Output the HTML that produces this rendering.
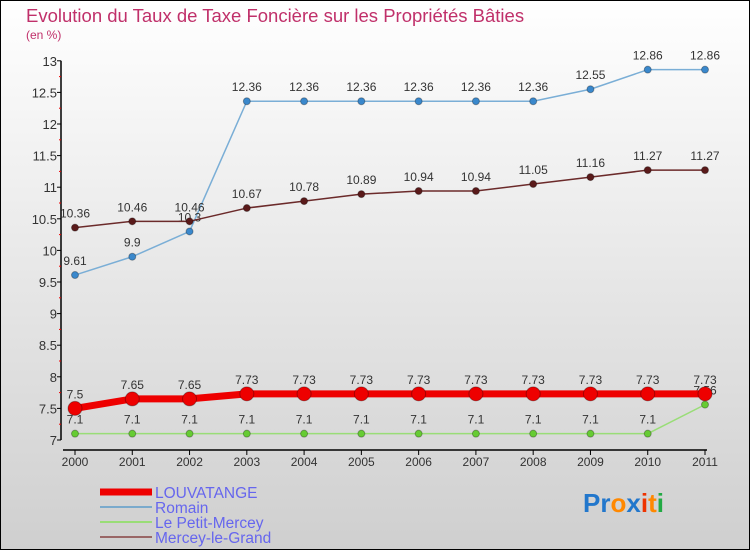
<!DOCTYPE html>
<html><head><meta charset="utf-8"><style>
body{margin:0;}
svg{display:block;font-family:"Liberation Sans",sans-serif;}
</style></head><body>
<svg id="c" width="750" height="550" viewBox="0 0 750 550">
<defs><linearGradient id="bg" x1="0" y1="0" x2="0" y2="1"><stop offset="0" stop-color="#ffffff"/><stop offset="1" stop-color="#cfcfcf"/></linearGradient></defs>
<rect x="0.5" y="0.5" width="749" height="549" fill="url(#bg)" stroke="#000"/>
<text x="26" y="22" font-size="18.5" fill="#c0306a">Evolution du Taux de Taxe Foncière sur les Propriétés Bâties</text>
<text x="26" y="39" font-size="12" fill="#c0306a">(en %)</text>
<g id="axes"></g><g id="series"></g>
<g>
<line x1="100" y1="492" x2="152" y2="492" stroke="#ee0000" stroke-width="7"/>
<text x="155" y="498" font-size="15.5" fill="#6666ee">LOUVATANGE</text>
<line x1="100" y1="507" x2="152" y2="507" stroke="#7aaacc" stroke-width="2"/>
<text x="155" y="513" font-size="15.5" fill="#6666ee">Romain</text>
<line x1="100" y1="522" x2="152" y2="522" stroke="#99dd77" stroke-width="2"/>
<text x="155" y="528" font-size="15.5" fill="#6666ee">Le Petit-Mercey</text>
<line x1="100" y1="537" x2="152" y2="537" stroke="#996666" stroke-width="2"/>
<text x="155" y="543" font-size="15.5" fill="#6666ee">Mercey-le-Grand</text>
</g>
<text x="583" y="512" font-size="26" font-weight="bold"><tspan fill="#2277cc">Pr</tspan><tspan fill="#ff8800">o</tspan><tspan fill="#2277cc">x</tspan><tspan fill="#ee3300">i</tspan><tspan fill="#ff8800">t</tspan><tspan fill="#22aa44">i</tspan></text>
</svg>
<script>
const years=[2000,2001,2002,2003,2004,2005,2006,2007,2008,2009,2010,2011];
const louvatange=[7.5,7.65,7.65,7.73,7.73,7.73,7.73,7.73,7.73,7.73,7.73,7.73];
const romain=[9.61,9.9,10.3,12.36,12.36,12.36,12.36,12.36,12.36,12.55,12.86,12.86];
const petitMercey=[7.1,7.1,7.1,7.1,7.1,7.1,7.1,7.1,7.1,7.1,7.1,7.56];
const merceyGrand=[10.36,10.46,10.46,10.67,10.78,10.89,10.94,10.94,11.05,11.16,11.27,11.27];
const yTicks=[7,7.5,8,8.5,9,9.5,10,10.5,11,11.5,12,12.5,13];
const NS="http://www.w3.org/2000/svg";
const X=i=>75+i*(630/11);
const Y=v=>440-(v-7)*63.2;
function mk(t,a,p){const e=document.createElementNS(NS,t);for(const k in a)e.setAttribute(k,a[k]);p.appendChild(e);return e;}
const ax=document.getElementById('axes'),se=document.getElementById('series');
let l=mk('line',{x1:61,y1:Y(13),x2:61,y2:Y(7),stroke:'#000','stroke-width':1.5},ax);


l=mk('line',{x1:63,y1:450,x2:707,y2:450,stroke:'#000','stroke-width':1.5},ax);


yTicks.forEach((v,i)=>{
 mk('line',{x1:57,y1:Y(v),x2:61,y2:Y(v),stroke:'#000'},ax);
 if(i<yTicks.length-1) mk('line',{x1:59,y1:Y(v+0.25),x2:61,y2:Y(v+0.25),stroke:'#e00'},ax);
 const t=mk('text',{x:57,y:Y(v)+5,'font-size':13,fill:'#333','text-anchor':'end'},ax);t.textContent=String(v);
 
 
});
years.forEach((y,i)=>{
 mk('line',{x1:X(i),y1:450,x2:X(i),y2:455,stroke:'#000'},ax);
 const t=mk('text',{x:X(i),y:466,'font-size':12,fill:'#333','text-anchor':'middle'},ax);t.textContent=y;
 
 
});
function series(vals,color,pc,w,r,name){
 const g=mk('g',{},se);
 
 
 mk('polyline',{points:vals.map((v,i)=>X(i)+','+Y(v)).join(' '),fill:'none',stroke:color,'stroke-width':w,'stroke-linejoin':'round'},g);
 vals.forEach((v,i)=>{
  const c=mk('circle',{cx:X(i),cy:Y(v),r:r,fill:pc,stroke:'rgba(0,0,0,0.3)','stroke-width':1},g);
  
  
  const t=mk('text',{x:X(i),y:Y(v)-10,'font-size':12,fill:'#333','text-anchor':'middle'},g);t.textContent=String(v);
 });
}
series(romain,'#7aaed6','#3a88cc',1.5,3.5,'romain');
series(merceyGrand,'#6b2a2a','#5a1a1a',1.5,3.5,'mercey-le-grand');
series(petitMercey,'#99dd77','#66cc33',1.5,3.5,'le-petit-mercey');
series(louvatange,'#ee0000','#ee0000',7,7,'louvatange');
</script>
</body></html>
